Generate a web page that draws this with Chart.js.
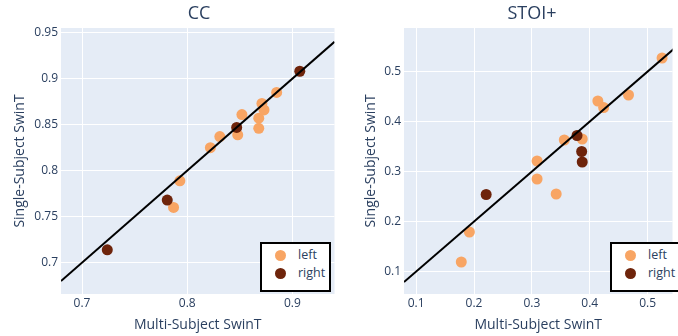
<!DOCTYPE html>
<html lang="en">
<head>
    <meta charset="UTF-8">
    <title>CC and STOI+ scatter</title>
    <script src="https://cdn.jsdelivr.net/npm/chart.js"></script>
    <style>
        body { margin: 0; background: #fff; overflow: hidden; font-family: 'Open Sans', sans-serif; color: #2a3f5f; }
        .panel { position: absolute; top: 0; height: 336px; }
        .panel canvas { position: absolute; left: 0; top: 0; }
        .title { position: absolute; top: 0; font-size: 18px; transform: translateX(-50%); white-space: nowrap; }
        .legend { position: absolute; top: 242px; height: 44px; border: 2px solid #000; background: #fff; box-sizing: content-box; overflow: hidden; }
        .legend div { position: relative; height: 18px; font-size: 12.5px; line-height: 18px; padding-left: 36px; }
        .legend span { position: absolute; left: 13px; top: 3.5px; width: 11px; height: 11px; border-radius: 50%; }
    </style>
</head>
<body>

<div class="panel" style="left:0;width:340px">
    <canvas id="ccChart" width="340" height="336"></canvas>
    <div class="title" style="left:199px">CC</div>
    <div class="legend" id="ccLegend" style="left:260px;width:67px;padding-top:2px"></div>
</div>
<div class="panel" style="left:340px;width:338px">
    <canvas id="stoiChart" width="338" height="336"></canvas>
    <div class="title" style="left:192px">STOI+</div>
    <div class="legend" id="stoiLegend" style="left:270px;width:66px;padding-top:2px"></div>
</div>

<script>
    // colours
    const leftColor = '#f8a564';
    const rightColor = '#6e240b';

    // CC subplot
    const ccLeftX = [0.793, 0.787, 0.822, 0.831, 0.848, 0.852, 0.868, 0.868, 0.871, 0.873, 0.885];
    const ccLeftY = [0.789, 0.760, 0.825, 0.837, 0.839, 0.861, 0.857, 0.846, 0.873, 0.866, 0.885];
    const ccRightX = [0.724, 0.781, 0.847, 0.907];
    const ccRightY = [0.714, 0.768, 0.847, 0.908];
    const ccLine = [0.68, 0.94];
    const ccXTicks = [0.7, 0.8, 0.9];
    const ccYTicks = [0.7, 0.75, 0.8, 0.85, 0.9, 0.95];

    // STOI+ subplot
    const stoiLeftX = [0.178, 0.192, 0.309, 0.309, 0.342, 0.356, 0.387, 0.414, 0.424, 0.467, 0.525];
    const stoiLeftY = [0.119, 0.179, 0.321, 0.285, 0.255, 0.363, 0.365, 0.441, 0.428, 0.453, 0.527];
    const stoiRightX = [0.221, 0.378, 0.386, 0.387];
    const stoiRightY = [0.254, 0.372, 0.340, 0.319];
    const stoiLine = [0.079, 0.56];
    const stoiXTicks = [0.1, 0.2, 0.3, 0.4, 0.5];
    const stoiYTicks = [0.1, 0.2, 0.3, 0.4, 0.5];

    Chart.defaults.font.family = "'Open Sans', sans-serif";
    Chart.defaults.color = '#2a3f5f';

    const toPoints = (xs, ys) => xs.map((x, i) => ({x: x, y: ys[i]}));

    // plot background like plotly
    const plotBg = {
        id: 'plotBg',
        beforeDraw(chart) {
            const {ctx, chartArea: a} = chart;
            ctx.save();
            ctx.fillStyle = '#e5ecf6';
            ctx.fillRect(a.left, a.top, a.right - a.left, a.bottom - a.top);
            ctx.restore();
        }
    };

    function makeChart(id, leftPts, rightPts, line, xr, yr, xTicks, yTicks, yWidth, yTitlePad, padRight) {
        const axis = (ticks, range, title) => ({
            type: 'linear',
            min: range[0],
            max: range[1],
            afterBuildTicks: s => { s.ticks = ticks.map(v => ({value: v})); },
            ticks: {
                padding: 3,
                font: {size: 12},
                callback: v => String(Math.round(v * 100) / 100)
            },
            grid: {color: '#ffffff', lineWidth: 1, drawTicks: false},
            border: {display: false},
            title: {display: true, text: title, font: {size: 14}}
        });
        const x = axis(xTicks, xr, 'Multi-Subject SwinT');
        x.ticks.padding = 2;
        x.title.padding = {top: 0, bottom: 3};
        x.afterFit = s => { s.height = 42; };
        const y = axis(yTicks, yr, 'Single-Subject SwinT');
        y.title.padding = {top: yTitlePad, bottom: 0};
        y.afterFit = s => { s.width = yWidth; };

        return new Chart(document.getElementById(id), {
            type: 'scatter',
            data: {
                datasets: [
                    {label: 'left', data: leftPts, backgroundColor: leftColor, borderWidth: 0, pointRadius: 5.5, order: 2},
                    {label: 'right', data: rightPts, backgroundColor: rightColor, borderWidth: 0, pointRadius: 5.5, order: 1},
                    {label: 'y = x', data: toPoints(line, line), showLine: true, borderColor: '#000', borderWidth: 2,
                     pointRadius: 0, order: 0}
                ]
            },
            options: {
                responsive: false,
                animation: false,
                layout: {padding: {top: 28, right: padRight, left: 0, bottom: 0}},
                plugins: {legend: {display: false}, tooltip: {enabled: false}},
                scales: {x: x, y: y}
            },
            plugins: [plotBg]
        });
    }

    function buildLegend(chart, el) {
        chart.data.datasets.slice(0, 2).forEach(ds => {
            const row = document.createElement('div');
            const dot = document.createElement('span');
            dot.style.background = ds.backgroundColor;
            row.appendChild(dot);
            row.appendChild(document.createTextNode(ds.label));
            el.appendChild(row);
        });
    }

    const cc = makeChart('ccChart', toPoints(ccLeftX, ccLeftY), toPoints(ccRightX, ccRightY), ccLine,
        [0.68, 0.94], [0.666, 0.955], ccXTicks, ccYTicks, 61, 12, 2);
    const stoi = makeChart('stoiChart', toPoints(stoiLeftX, stoiLeftY), toPoints(stoiRightX, stoiRightY), stoiLine,
        [0.079, 0.543], [0.055, 0.587], stoiXTicks, stoiYTicks, 64, 23, 0);

    buildLegend(cc, document.getElementById('ccLegend'));
    buildLegend(stoi, document.getElementById('stoiLegend'));
</script>
</body>
</html>
